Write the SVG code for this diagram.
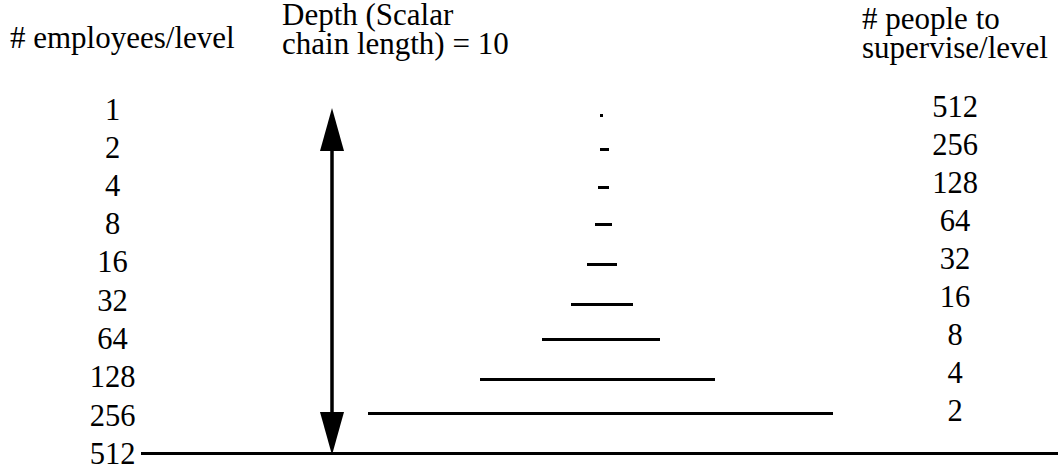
<svg xmlns="http://www.w3.org/2000/svg" width="1059" height="465" viewBox="0 0 1059 465">
<style>
text { font-family: "Liberation Serif", "Times New Roman", serif; font-size: 30.5px; fill: #000; }
.h { font-size: 31px; }
.c { text-anchor: middle; }
.bar { stroke: #000; stroke-width: 3; fill: none; }
</style>
<rect width="1059" height="465" fill="#fff"/>
<g id="headers">
<text class="h" x="10" y="48"># employees/level</text>
<text class="h" x="282" y="25">Depth (Scalar</text>
<text class="h" x="282" y="54">chain length) = 10</text>
<text class="h" x="862" y="29"># people to</text>
<text class="h" x="862" y="58">supervise/level</text>
</g>
<g id="employees">
<text class="c" x="112.5" y="120">1</text>
<text class="c" x="112.5" y="158">2</text>
<text class="c" x="112.5" y="196">4</text>
<text class="c" x="112.5" y="234">8</text>
<text class="c" x="112.5" y="272">16</text>
<text class="c" x="112.5" y="311">32</text>
<text class="c" x="112.5" y="349">64</text>
<text class="c" x="112.5" y="387">128</text>
<text class="c" x="112.5" y="426">256</text>
<text class="c" x="112.5" y="464">512</text>
</g>
<g id="supervise">
<text class="c" x="955" y="116.5">512</text>
<text class="c" x="955" y="154.5">256</text>
<text class="c" x="955" y="192.5">128</text>
<text class="c" x="955" y="231">64</text>
<text class="c" x="955" y="269">32</text>
<text class="c" x="955" y="307">16</text>
<text class="c" x="955" y="345">8</text>
<text class="c" x="955" y="383">4</text>
<text class="c" x="955" y="421">2</text>
</g>
<g id="levels">
<line class="bar" x1="600" y1="115.5" x2="603" y2="115.5"/>
<line class="bar" x1="600" y1="149.5" x2="609" y2="149.5"/>
<line class="bar" x1="598" y1="187.5" x2="609" y2="187.5"/>
<line class="bar" x1="595" y1="224.5" x2="612" y2="224.5"/>
<line class="bar" x1="587" y1="264.5" x2="617" y2="264.5"/>
<line class="bar" x1="571" y1="304.5" x2="633" y2="304.5"/>
<line class="bar" x1="542" y1="339.5" x2="660" y2="339.5"/>
<line class="bar" x1="480" y1="379.5" x2="715" y2="379.5"/>
<line class="bar" x1="368" y1="413.5" x2="833" y2="413.5"/>
<line class="bar" x1="141" y1="453.5" x2="1058" y2="453.5"/>
</g>
<g id="connectors">
<line x1="332" y1="150" x2="332" y2="413" stroke="#000" stroke-width="3.5"/>
<polygon points="332,108 320,151 344,151" fill="#000"/>
<polygon points="332,455 320,412 344,412" fill="#000"/>
</g>
</svg>
